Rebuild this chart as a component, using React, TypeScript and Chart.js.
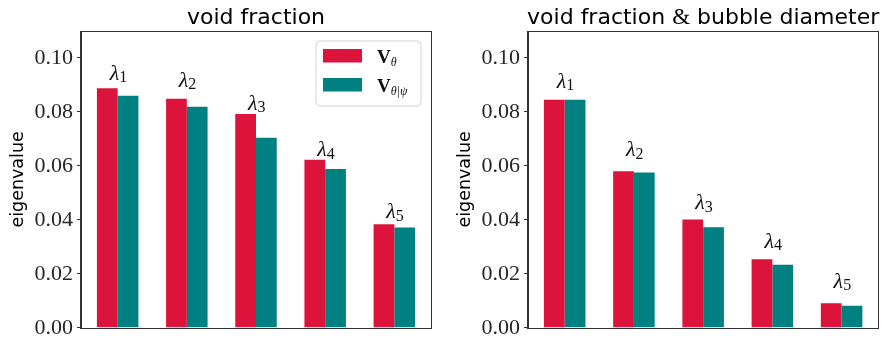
import React, { useEffect, useRef } from 'react';
import { Chart, registerables } from 'chart.js';

Chart.register(...registerables);

// ---- data ----
const groupIndex = [0, 1, 2, 3, 4];
const lambdaSubscripts = ['1', '2', '3', '4', '5'];
const legendSubscripts = ['θ', 'θ|ψ'];

const voidTheta = [0.0888, 0.0849, 0.0792, 0.0623, 0.0384];
const voidThetaPsi = [0.0860, 0.0819, 0.0704, 0.0589, 0.0372];
const voidLabelY = [0.0920, 0.0894, 0.0809, 0.0635, 0.0406];

const bubbleTheta = [0.0845, 0.0580, 0.0401, 0.0254, 0.0091];
const bubbleThetaPsi = [0.0845, 0.0576, 0.0373, 0.0234, 0.0082];
const bubbleLabelY = [0.0890, 0.0635, 0.0440, 0.0296, 0.0148];

const yTicks = [0, 0.02, 0.04, 0.06, 0.08, 0.1];
const Y_MAX = 0.11;
const X_MIN = -0.53;
const X_MAX = 4.53;

const RED = '#DC143C';
const TEAL = '#008080';
const SPINE = '#333333';

type Part = { text: string; font: string };

function makePlugins(titleParts: Part[], labelY: number[], showLegend: boolean) {
  const titlePlugin = {
    id: 'customTitle',
    afterDraw(chart: any) {
      const ctx = chart.ctx;
      const area = chart.chartArea;
      ctx.save();
      let total = 0;
      const widths = titleParts.map((p) => {
        ctx.font = p.font;
        const w = ctx.measureText(p.text).width;
        total += w;
        return w;
      });
      let x = (area.left + area.right) / 2 - total / 2;
      ctx.fillStyle = '#000';
      ctx.textBaseline = 'alphabetic';
      ctx.textAlign = 'left';
      titleParts.forEach((p, i) => {
        ctx.font = p.font;
        ctx.fillText(p.text, x, 24);
        x += widths[i];
      });
      ctx.restore();
    },
  };

  const spinePlugin = {
    id: 'spines',
    afterDraw(chart: any) {
      const ctx = chart.ctx;
      const a = chart.chartArea;
      ctx.save();
      ctx.strokeStyle = SPINE;
      ctx.lineWidth = 1;
      ctx.strokeRect(Math.round(a.left) - 0.5, Math.round(a.top) + 0.5, Math.round(a.right - a.left) + 1, Math.round(a.bottom - a.top));
      ctx.restore();
    },
  };

  const lambdaPlugin = {
    id: 'lambdaLabels',
    afterDatasetsDraw(chart: any) {
      const ctx = chart.ctx;
      const xs = chart.scales.x;
      const ys = chart.scales.y;
      ctx.save();
      ctx.fillStyle = '#111';
      ctx.textBaseline = 'alphabetic';
      ctx.textAlign = 'left';
      groupIndex.forEach((g, i) => {
        const x = xs.getPixelForValue(g) - 8;
        const y = ys.getPixelForValue(labelY[i]);
        ctx.font = 'italic 22px "Liberation Serif"';
        ctx.fillText('λ', x, y);
        const w = ctx.measureText('λ').width;
        ctx.font = '16px "Liberation Serif"';
        ctx.fillText(lambdaSubscripts[i], x + w, y + 2.5);
      });
      ctx.restore();
    },
  };

  const legendPlugin = {
    id: 'customLegend',
    afterDraw(chart: any) {
      if (!showLegend) return;
      const ctx = chart.ctx;
      const a = chart.chartArea;
      const bw = 105;
      const bh = 65;
      const bx = a.right - 10 - bw;
      const by = a.top + 10;
      ctx.save();
      ctx.beginPath();
      const r = 4;
      ctx.moveTo(bx + r, by);
      ctx.arcTo(bx + bw, by, bx + bw, by + bh, r);
      ctx.arcTo(bx + bw, by + bh, bx, by + bh, r);
      ctx.arcTo(bx, by + bh, bx, by, r);
      ctx.arcTo(bx, by, bx + bw, by, r);
      ctx.closePath();
      ctx.fillStyle = 'rgba(255,255,255,0.85)';
      ctx.fill();
      ctx.strokeStyle = '#d4d4d4';
      ctx.lineWidth = 1;
      ctx.stroke();
      chart.data.datasets.forEach((ds: any, i: number) => {
        const sy = by + 8 + i * 29;
        ctx.fillStyle = ds.backgroundColor;
        ctx.fillRect(bx + 7, sy, 39, 13.5);
        ctx.fillStyle = '#111';
        ctx.textBaseline = 'alphabetic';
        ctx.font = 'bold 19px "Liberation Serif"';
        const tx = bx + 61;
        const ty = sy + 14;
        ctx.fillText('V', tx, ty);
        const w = ctx.measureText('V').width;
        ctx.font = 'italic 12px "Liberation Serif"';
        ctx.fillText(legendSubscripts[i], tx + w, ty + 3);
      });
      ctx.restore();
    },
  };

  return [titlePlugin, spinePlugin, lambdaPlugin, legendPlugin];
}

type PanelProps = {
  left: number;
  width: number;
  padRight: number;
  theta: number[];
  thetaPsi: number[];
  labelY: number[];
  titleParts: Part[];
  showLegend: boolean;
};

function Panel(props: PanelProps) {
  const ref = useRef<HTMLCanvasElement | null>(null);
  useEffect(() => {
    if (!ref.current) return;
    const chart = new Chart(ref.current, {
      type: 'bar',
      data: {
        datasets: [
          {
            label: 'V_θ',
            data: groupIndex.map((g, i) => ({ x: g, y: props.theta[i] })),
            backgroundColor: RED,
            borderWidth: 0,
            categoryPercentage: 0.6,
            barPercentage: 1.0,
          },
          {
            label: 'V_θ|ψ',
            data: groupIndex.map((g, i) => ({ x: g, y: props.thetaPsi[i] })),
            backgroundColor: TEAL,
            borderWidth: 0,
            categoryPercentage: 0.6,
            barPercentage: 1.0,
          },
        ],
      },
      options: {
        animation: false,
        responsive: false,
        maintainAspectRatio: false,
        devicePixelRatio: 1,
        layout: { padding: { top: 31, bottom: 16, left: 0, right: props.padRight } },
        plugins: {
          legend: { display: false },
          tooltip: { enabled: false },
          title: { display: false },
        },
        scales: {
          x: {
            type: 'linear',
            min: X_MIN,
            max: X_MAX,
            offset: false,
            display: false,
          },
          y: {
            min: 0,
            max: Y_MAX,
            afterBuildTicks: (s: any) => {
              s.ticks = yTicks.map((v) => ({ value: v }));
            },
            afterFit: (s: any) => {
              s.width = 81;
            },
            ticks: {
              callback: (v: any) => Number(v).toFixed(2),
              font: { family: 'Liberation Serif', size: 22 },
              color: '#262626',
              padding: 4,
            },
            grid: {
              drawOnChartArea: false,
              drawTicks: true,
              tickLength: 4,
              color: SPINE,
              lineWidth: 1,
            },
            border: { display: true, color: SPINE },
            title: {
              display: true,
              text: 'eigenvalue',
              color: '#000',
              font: { family: 'DejaVu Sans', size: 17.5 },
              padding: { top: 8, bottom: 0 },
            },
          },
        },
      } as any,
      plugins: makePlugins(props.titleParts, props.labelY, props.showLegend) as any,
    });
    return () => chart.destroy();
  }, []);
  return (
    <canvas
      ref={ref}
      width={props.width}
      height={345}
      style={{ position: 'absolute', left: props.left, top: 0, width: props.width, height: 345 }}
    />
  );
}

export default function App() {
  const sans = '22px "DejaVu Sans"';
  return (
    <div style={{ position: 'absolute', left: 0, top: 0, width: 886, height: 345, background: '#fff' }}>
      <Panel
        left={0}
        width={443}
        padRight={12}
        theta={voidTheta}
        thetaPsi={voidThetaPsi}
        labelY={voidLabelY}
        titleParts={[{ text: 'void fraction', font: sans }]}
        showLegend={true}
      />
      <Panel
        left={447}
        width={439}
        padRight={7.7}
        theta={bubbleTheta}
        thetaPsi={bubbleThetaPsi}
        labelY={bubbleLabelY}
        titleParts={[
          { text: 'void fraction ', font: sans },
          { text: '&', font: '23px "Liberation Serif"' },
          { text: ' bubble diameter', font: sans },
        ]}
        showLegend={false}
      />
    </div>
  );
}
